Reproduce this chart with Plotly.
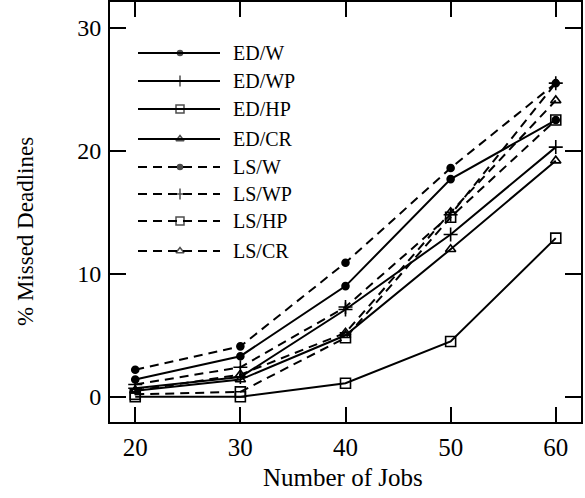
import plotly.graph_objects as go

jobs = [20, 30, 40, 50, 60]
series_names = ["ED/W", "ED/WP", "ED/HP", "ED/CR", "LS/W", "LS/WP", "LS/HP", "LS/CR"]
ed_w = [1.4, 3.3, 9.0, 17.7, 22.5]
ed_wp = [0.7, 1.6, 7.1, 13.2, 20.3]
ed_hp = [0.0, 0.0, 1.1, 4.5, 12.9]
ed_cr = [0.5, 1.4, 5.0, 12.0, 19.2]
ls_w = [2.2, 4.1, 10.9, 18.6, 25.5]
ls_wp = [1.0, 2.4, 7.3, 14.8, 25.5]
ls_hp = [0.2, 0.4, 4.8, 14.6, 22.5]
ls_cr = [0.5, 1.8, 5.2, 15.0, 24.1]
series_values = [ed_w, ed_wp, ed_hp, ed_cr, ls_w, ls_wp, ls_hp, ls_cr]
x_ticks = [20, 30, 40, 50, 60]
y_ticks = [0, 10, 20, 30]

symbols = ["circle", "cross-thin-open", "square-open", "triangle-up-open"] * 2
sizes = [7, 10, 10, 9] * 2
dashes = ["solid"] * 4 + ["9px,6px"] * 4

FONT = "Liberation Serif"
W, H = 585, 498
left_px, right_px, top_px, bot_px = 110, 581, 2, 422

fig = go.Figure()

for name, vals, sym, sz, dash in zip(series_names, series_values, symbols, sizes, dashes):
    fig.add_trace(go.Scatter(
        x=jobs, y=vals, mode="lines+markers", name=name, showlegend=False,
        line=dict(color="black", width=2, dash=dash),
        marker=dict(symbol=sym, size=sz, color="black",
                    line=dict(color="black", width=1.6)),
    ))

def px_x(px):
    return (px - left_px) / (right_px - left_px)

def px_y(py):
    return (bot_px - py) / (bot_px - top_px)

# Legend drawn inside the plot on an overlay axis (0..1)
leg_y_px = [53, 81, 109, 139, 167, 194, 221, 251]
for i, (name, sym, sz, dash) in enumerate(zip(series_names, symbols, sizes, dashes)):
    yy = px_y(leg_y_px[i])
    fig.add_trace(go.Scatter(
        x=[px_x(138), px_x(180), px_x(220)], y=[yy, yy, yy], xaxis="x2", yaxis="y2",
        mode="lines+markers", showlegend=False, hoverinfo="skip",
        line=dict(color="black", width=2, dash=dash),
        marker=dict(symbol=sym, size=[0, sz - 2, 0], color="black",
                    line=dict(color="black", width=1.5)),
    ))
    fig.add_annotation(
        x=px_x(231), y=yy, xref="paper", yref="paper",
        text=name, showarrow=False, xanchor="left", yanchor="middle",
        font=dict(family=FONT, size=20, color="black"),
    )

# Axis titles
fig.add_annotation(
    x=px_x(343), y=px_y(477), xref="paper", yref="paper", text="Number of Jobs",
    showarrow=False, xanchor="center", yanchor="middle",
    font=dict(family=FONT, size=25, color="black"),
)
fig.add_annotation(
    x=px_x(25), y=px_y(232), xref="paper", yref="paper", text="% Missed Deadlines",
    showarrow=False, xanchor="center", yanchor="middle", textangle=-90,
    font=dict(family=FONT, size=23, color="black"),
)

fig.update_layout(
    width=W, height=H,
    margin=dict(l=left_px, r=W - right_px, t=top_px, b=H - bot_px, pad=0),
    paper_bgcolor="white", plot_bgcolor="white",
    font=dict(family=FONT, color="black"),
    xaxis=dict(
        range=[17.6, 62.4], tickvals=x_ticks, ticks="inside", ticklen=15,
        tickwidth=2, tickcolor="black", showline=True, linewidth=2,
        linecolor="black", mirror="ticks", showgrid=False, zeroline=False,
        tickfont=dict(family=FONT, size=25), automargin=False,
        ticklabelstandoff=2,
    ),
    yaxis=dict(
        range=[-2.05, 32.1], tickvals=y_ticks, ticks="inside", ticklen=16,
        tickwidth=2, tickcolor="black", showline=True, linewidth=2,
        linecolor="black", mirror="ticks", showgrid=False, zeroline=False,
        tickfont=dict(family=FONT, size=24), automargin=False,
        ticklabelstandoff=2,
    ),
    xaxis2=dict(range=[0, 1], overlaying="x", visible=False, anchor="y2"),
    yaxis2=dict(range=[0, 1], overlaying="y", visible=False, anchor="x2"),
)

fig.write_html(
    "out.html",
    config={"displayModeBar": False},
    post_script="document.body.style.margin='0';document.body.style.overflow='hidden';",
)
